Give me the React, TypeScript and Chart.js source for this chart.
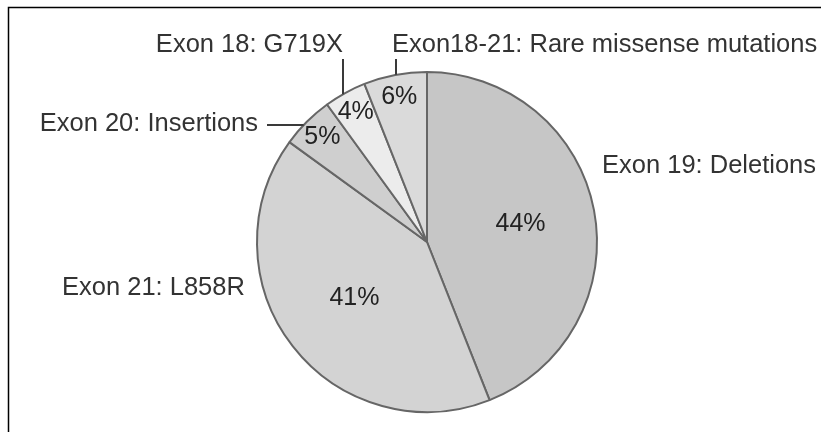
import React, { useEffect, useRef } from "react";
import { Chart, registerables } from "chart.js";

Chart.register(...registerables);

const categories = [
  "Exon 19: Deletions",
  "Exon 21: L858R",
  "Exon 20: Insertions",
  "Exon 18: G719X",
  "Exon18-21: Rare missense mutations",
];
const values = [44, 41, 5, 4, 6];
const percentLabels = ["44%", "41%", "5%", "4%", "6%"];
const sliceColors = ["#c6c6c6", "#d3d3d3", "#cfcfcf", "#ececec", "#dadada"];

// label layout relative to pie centre (dx, dy baseline, align, leader type)
const labelLayout = [
  { dx: 175, dy: -69, align: "left", leader: "none", lx: 0, ly: 0 },
  { dx: -365, dy: 53, align: "left", leader: "none", lx: 0, ly: 0 },
  { dx: -169, dy: -111, align: "right", leader: "h", lx: -160, ly: -117 },
  { dx: -84, dy: -190, align: "right", leader: "v", lx: -84, ly: -183 },
  { dx: -35, dy: -190, align: "left", leader: "v", lx: -31, ly: -183 },
];
const pctRadius = [0.56, 0.54, 0.87, 0.87, 0.87];

const FONT = '25.5px "Liberation Sans", Arial, sans-serif';
const PCT_FONT = '25px "Liberation Sans", Arial, sans-serif';

const labelPlugin = {
  id: "labels",
  afterDraw(chart: any) {
    const ctx = chart.ctx;
    const meta = chart.getDatasetMeta(0);
    const arc0 = meta.data[0];
    if (!arc0) return;
    const { x: cx, y: cy, outerRadius: r } = arc0.getProps(["x", "y", "outerRadius"], true);
    ctx.save();
    // frame
    ctx.strokeStyle = "#000";
    ctx.lineWidth = 1.5;
    ctx.beginPath();
    ctx.moveTo(8.5, chart.height);
    ctx.lineTo(8.5, 7.5);
    ctx.lineTo(chart.width, 7.5);
    ctx.stroke();

    // percent labels
    ctx.font = PCT_FONT;
    ctx.fillStyle = "#222";
    ctx.textAlign = "center";
    ctx.textBaseline = "middle";
    meta.data.forEach((arc: any, i: number) => {
      const p = arc.getProps(["startAngle", "endAngle"], true);
      const mid = (p.startAngle + p.endAngle) / 2;
      const rr = r * pctRadius[i];
      ctx.fillText(percentLabels[i], cx + Math.cos(mid) * rr, cy + Math.sin(mid) * rr);
    });

    // category labels + leaders
    ctx.font = FONT;
    ctx.fillStyle = "#333";
    ctx.textBaseline = "alphabetic";
    ctx.strokeStyle = "#3a3a3a";
    ctx.lineWidth = 2;
    categories.forEach((t, i) => {
      const L = labelLayout[i];
      ctx.textAlign = L.align;
      ctx.fillText(t, cx + L.dx, cy + L.dy);
      if (L.leader === "v") {
        const ey = -Math.sqrt(r * r - L.lx * L.lx);
        ctx.beginPath();
        ctx.moveTo(cx + L.lx, cy + L.ly);
        ctx.lineTo(cx + L.lx, cy + ey);
        ctx.stroke();
      } else if (L.leader === "h") {
        const ex = -Math.sqrt(r * r - L.ly * L.ly);
        ctx.beginPath();
        ctx.moveTo(cx + L.lx, cy + L.ly);
        ctx.lineTo(cx + ex, cy + L.ly);
        ctx.stroke();
      }
    });
    ctx.restore();
  },
};

export default function App() {
  const ref = useRef<HTMLCanvasElement>(null);
  useEffect(() => {
    if (!ref.current) return;
    const chart = new Chart(ref.current, {
      type: "pie",
      data: {
        labels: categories,
        datasets: [
          {
            data: values,
            backgroundColor: sliceColors,
            borderColor: "#666",
            borderWidth: 2,
          },
        ],
      },
      options: {
        animation: false,
        responsive: true,
        maintainAspectRatio: false,
        layout: { padding: { left: 256, right: 223, top: 71, bottom: 19 } },
        plugins: { legend: { display: false }, tooltip: { enabled: false } },
      },
      plugins: [labelPlugin],
    });
    return () => chart.destroy();
  }, []);
  return (
    <div style={{ position: "fixed", left: 0, top: 0, width: 821, height: 432, background: "#fff" }}>
      <canvas ref={ref} />
    </div>
  );
}
